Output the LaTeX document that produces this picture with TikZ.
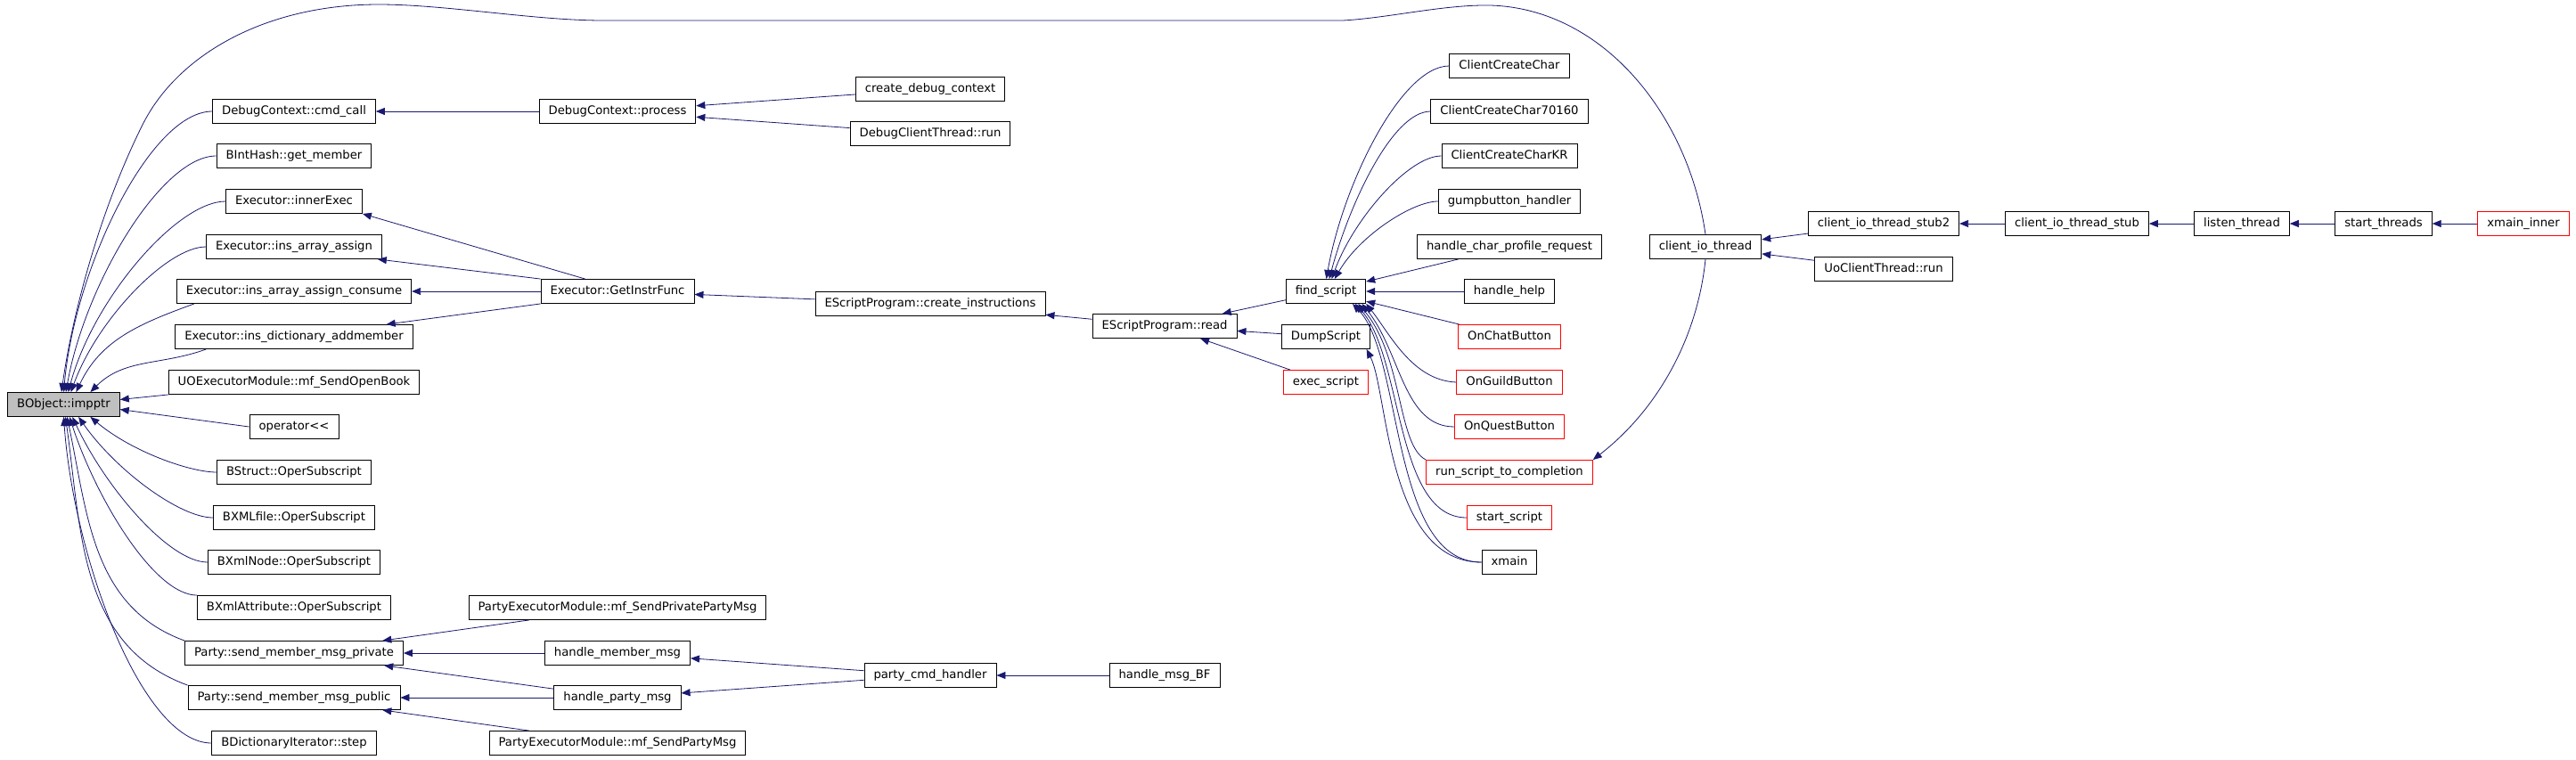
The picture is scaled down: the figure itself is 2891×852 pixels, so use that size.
\documentclass[tikz,border=0pt]{standalone}
\usepackage{fontspec}
\setmainfont{DejaVu Sans}
\usetikzlibrary{arrows.meta}

\definecolor{edgeblue}{HTML}{191970}
\definecolor{rootgray}{HTML}{BFBFBF}

\tikzset{
	fn/.style={draw, line width=0.9pt, inner xsep=10.5pt, inner ysep=0pt,
		minimum height=27pt, text height=10pt, text depth=3pt,
		font=\fontsize{13.2pt}{15pt}\selectfont},
	fnred/.style={fn, draw=red},
	fnroot/.style={fn, fill=rootgray},
	call/.style={draw=edgeblue, line width=0.8pt, -{Triangle[length=10pt,width=8pt]}},
	fan/.style={out=180, out looseness=0.5},
}

\begin{document}
\begin{tikzpicture}[x=1pt, y=1pt]
		
		\useasboundingbox (0,0) rectangle (2891,-852);
		
		% the function itself
		\node[fnroot] (bobj) at (71.5,-454) {BObject::impptr};
		
		% direct callers
		\node[fn] (cmdcall) at (330,-125) {DebugContext::cmd\_call};
		\node[fn] (binthash) at (330,-175) {BIntHash::get\_member};
		\node[fn] (innerexec) at (330,-226) {Executor::innerExec};
		\node[fn] (arrassign) at (330,-277) {Executor::ins\_array\_assign};
		\node[fn] (arrconsume) at (330,-327) {Executor::ins\_array\_assign\_consume};
		\node[fn] (dictadd) at (330,-378) {Executor::ins\_dictionary\_addmember};
		\node[fn] (sendopenbook) at (330,-429) {UOExecutorModule::mf\_SendOpenBook};
		\node[fn] (oplshift) at (330,-479) {operator<{}<};
		\node[fn] (bstruct) at (330,-530) {BStruct::OperSubscript};
		\node[fn] (bxmlfile) at (330,-581) {BXMLfile::OperSubscript};
		\node[fn] (bxmlnode) at (330,-631) {BXmlNode::OperSubscript};
		\node[fn] (bxmlattr) at (330,-682) {BXmlAttribute::OperSubscript};
		\node[fn] (sendprivate) at (330,-733) {Party::send\_member\_msg\_private};
		\node[fn] (sendpublic) at (330,-783) {Party::send\_member\_msg\_public};
		\node[fn] (dictstep) at (330,-834) {BDictionaryIterator::step};
		
		% second column
		\node[fn] (process) at (693,-125) {DebugContext::process};
		\node[fn] (getinstr) at (693,-327) {Executor::GetInstrFunc};
		\node[fn] (sendprivparty) at (693,-682) {PartyExecutorModule::mf\_SendPrivatePartyMsg};
		\node[fn] (handlemember) at (693,-733) {handle\_member\_msg};
		\node[fn] (handleparty) at (693,-783) {handle\_party\_msg};
		\node[fn] (sendparty) at (693,-834) {PartyExecutorModule::mf\_SendPartyMsg};
		
		% third and fourth column
		\node[fn] (createdebug) at (1044,-100) {create\_debug\_context};
		\node[fn] (debugclient) at (1044,-150) {DebugClientThread::run};
		\node[fn] (createinstr) at (1044,-341) {EScriptProgram::create\_instructions};
		\node[fn] (partycmd) at (1044,-758) {party\_cmd\_handler};
		\node[fn] (read) at (1307,-366) {EScriptProgram::read};
		\node[fn] (handlebf) at (1307,-758) {handle\_msg\_BF};
		
		% script loaders
		\node[fn] (findscript) at (1488,-327) {find\_script};
		\node[fn] (dumpscript) at (1488,-378) {DumpScript};
		\node[fnred] (execscript) at (1488,-429) {exec\_script};
		
		% callers of find_script
		\node[fn] (clientcreate) at (1694,-74) {ClientCreateChar};
		\node[fn] (cc70160) at (1694,-125) {ClientCreateChar70160};
		\node[fn] (cckr) at (1694,-175) {ClientCreateCharKR};
		\node[fn] (gumpbutton) at (1694,-226) {gumpbutton\_handler};
		\node[fn] (charprofile) at (1694,-277) {handle\_char\_profile\_request};
		\node[fn] (handlehelp) at (1694,-327) {handle\_help};
		\node[fnred] (onchat) at (1694,-378) {OnChatButton};
		\node[fnred] (onguild) at (1694,-429) {OnGuildButton};
		\node[fnred] (onquest) at (1694,-479) {OnQuestButton};
		\node[fnred] (runscript) at (1694,-530) {run\_script\_to\_completion};
		\node[fnred] (startscript) at (1694,-581) {start\_script};
		\node[fn] (xmain) at (1694,-631) {xmain};
		
		% client thread chain
		\node[fn] (clientio) at (1914,-277) {client\_io\_thread};
		\node[fn] (stub2) at (2114,-251) {client\_io\_thread\_stub2};
		\node[fn] (uoclient) at (2114,-302) {UoClientThread::run};
		\node[fn] (stub) at (2331,-251) {client\_io\_thread\_stub};
		\node[fn] (listen) at (2516,-251) {listen\_thread};
		\node[fn] (startthreads) at (2675,-251) {start\_threads};
		\node[fnred] (xmaininner) at (2832,-251) {xmain\_inner};
		
		% into BObject::impptr
		\draw[call] (clientio.north) .. controls (1895,-130) and (1800,-10) .. (1673,-6)
			.. controls (1620,-5) and (1560,-20) .. (1507,-23) -- (677,-23)
			.. controls (600,-23) and (500,-5) .. (425,-5)
			.. controls (300,-5) and (200,-60) .. (160,-140)
			.. controls (110,-240) and (80,-360) .. (bobj.100);
		\draw[call] (cmdcall.west) to[fan, in=85] (bobj.north);
		\draw[call] (binthash.west) to[fan, in=80] (bobj.80);
		\draw[call] (innerexec.west) to[fan, in=75] (bobj.70);
		\draw[call] (arrassign.west) to[fan, in=70] (bobj.60);
		\draw[call] ([xshift=20pt]arrconsume.south west) to[out=200, in=65] (bobj.45);
		\draw[call] ([xshift=35pt]dictadd.south west) to[out=200, in=45] (bobj.25);
		\draw[call] (sendopenbook.south west) -- (bobj.5);
		\draw[call] (oplshift.west) -- (bobj.-5);
		\draw[call] (bstruct.west) to[fan, in=-40] (bobj.-25);
		\draw[call] (bxmlfile.west) to[fan, in=-55] (bobj.-40);
		\draw[call] (bxmlnode.west) to[fan, in=-65] (bobj.-55);
		\draw[call] (bxmlattr.north west) to[fan, in=-72] (bobj.-65);
		\draw[call] (sendprivate.north west) to[out=160, in=-78] (bobj.-75);
		\draw[call] (sendpublic.north west) to[out=160, in=-82] (bobj.-82);
		\draw[call] (dictstep.west) to[fan, in=-86] (bobj.-90);
		
		% debug and executor branch
		\draw[call] (process) -- (cmdcall);
		\draw[call] (createdebug) -- (process);
		\draw[call] (debugclient) -- (process);
		\draw[call] (getinstr.159) -- (innerexec.south east);
		\draw[call] (getinstr.north west) -- ([xshift=-5pt]arrassign.south east);
		\draw[call] (getinstr) -- (arrconsume);
		\draw[call] (getinstr.south west) -- ([xshift=-30pt]dictadd.north east);
		\draw[call] (createinstr) -- (getinstr);
		\draw[call] (read) -- (createinstr);
		\draw[call] (findscript) -- (read);
		\draw[call] (dumpscript) -- (read);
		\draw[call] (execscript) -- (read);
		
		% into find_script
		\draw[call] (clientcreate.west) to[fan, in=80] (findscript.88);
		\draw[call] (cc70160.west) to[fan, in=75] (findscript.75);
		\draw[call] (cckr.west) to[fan, in=70] (findscript.65);
		\draw[call] (gumpbutton.west) to[fan, in=60] (findscript.55);
		\draw[call] (charprofile) -- (findscript);
		\draw[call] (handlehelp) -- (findscript);
		\draw[call] (onchat) -- (findscript);
		\draw[call] (onguild.west) .. controls (1585,-427) and (1560,-375) .. (findscript.-17);
		\draw[call] (onquest.west) .. controls (1575,-479) and (1572,-395) .. (findscript.-19);
		\draw[call] (runscript.north west) .. controls (1568,-500) and (1575,-400) .. (findscript.-21);
		\draw[call] (startscript.west) .. controls (1565,-581) and (1575,-400) .. (findscript.-23);
		\draw[call] (xmain.west) .. controls (1560,-631) and (1575,-400) .. (findscript.-25);
		\draw[call] (xmain.west) .. controls (1556,-631) and (1558,-440) .. (dumpscript.-17);
		
		% party branch
		\draw[call] (sendprivparty) -- (sendprivate);
		\draw[call] (handlemember) -- (sendprivate);
		\draw[call] (handleparty) -- (sendprivate);
		\draw[call] (handleparty) -- (sendpublic);
		\draw[call] (sendparty) -- (sendpublic);
		\draw[call] (partycmd) -- (handlemember);
		\draw[call] (partycmd) -- (handleparty);
		\draw[call] (handlebf) -- (partycmd);
		
		% client thread chain
		\draw[call] (clientio.south) .. controls (1905,-380) and (1860,-460) .. (runscript.north east);
		\draw[call] (stub2) -- (clientio);
		\draw[call] (uoclient) -- (clientio);
		\draw[call] (stub) -- (stub2);
		\draw[call] (listen) -- (stub);
		\draw[call] (startthreads) -- (listen);
		\draw[call] (xmaininner) -- (startthreads);
		
	\end{tikzpicture}
\end{document}
